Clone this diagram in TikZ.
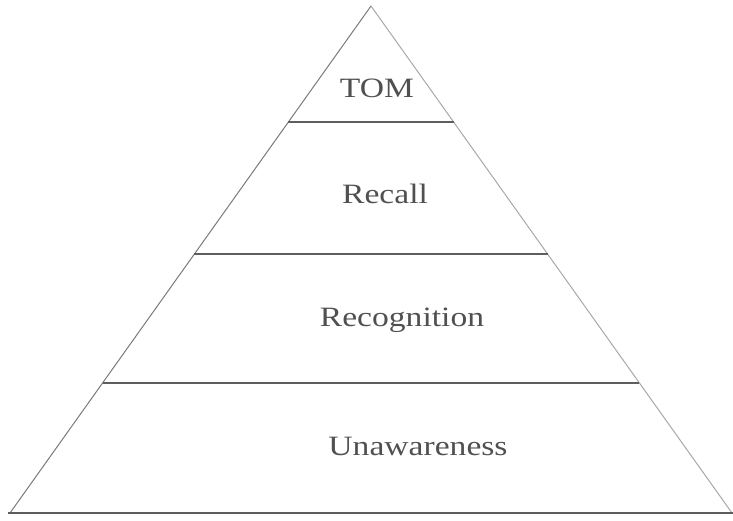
\documentclass[tikz,border=0pt]{standalone}
\usepackage{fontspec}
\setmainfont{Liberation Serif}
\usetikzlibrary{calc}
\definecolor{leftgray}{HTML}{7A7A7A}
\definecolor{rightgray}{HTML}{A8A8A8}
\definecolor{rulegray}{HTML}{5E5E5E}
\definecolor{txtgray}{HTML}{505050}
\newcommand{\widetext}[1]{\scalebox{1.2}[1]{#1}}

\begin{document}
\begin{tikzpicture}[
  x=1pt, y=-1pt,
  side/.style={line width=1pt},
  level/.style={rulegray, line width=2pt},
  lbl/.style={text=txtgray, font=\fontsize{28}{32}\selectfont, inner sep=0pt},
]
\useasboundingbox (0,0) rectangle (733,521);

% Pyramid outline
\coordinate (apex) at (371,6);
\coordinate (bl) at (10,513);
\coordinate (br) at (732,513);
\draw[side, leftgray] (apex) -- (bl);
\draw[side, rightgray] (apex) -- (br);
\draw[level, line width=2.2pt] (8,513) -- (br) -- (733,513);

% Level dividers
\draw[level] ($(apex)!0.2288!(bl)$) -- ($(apex)!0.2288!(br)$);
\draw[level] ($(apex)!0.489!(bl)$) -- ($(apex)!0.489!(br)$);
\draw[level] ($(apex)!0.7436!(bl)$) -- ($(apex)!0.7436!(br)$);

% Labels
\node[lbl] (tom) at (377,88) {\widetext{TOM}};
\node[lbl] (recall) at (385,194) {\widetext{Recall}};
\node[lbl] (recog) at (402,320) {\widetext{Recognition}};
\node[lbl] (unaware) at (418,446) {\widetext{Unawareness}};

\end{tikzpicture}
\end{document}
